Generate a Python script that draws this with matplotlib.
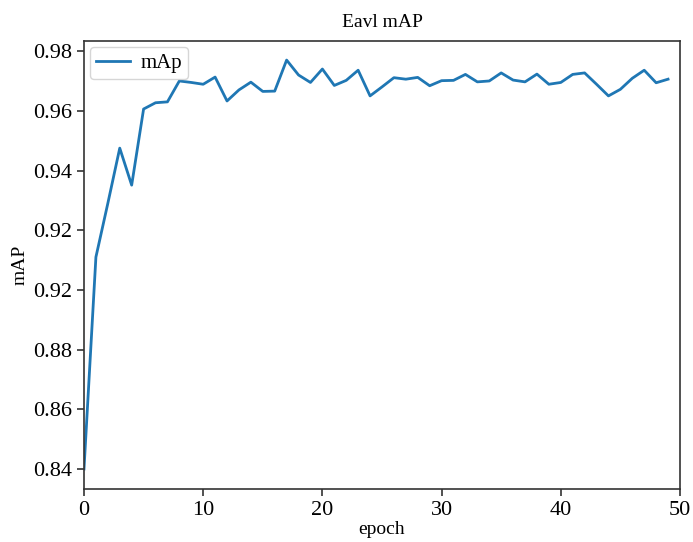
import numpy as np
import matplotlib
matplotlib.use("Agg")
import matplotlib.pyplot as plt

plt.rcParams['font.family'] = ['Liberation Serif', 'DejaVu Serif']

# mAP per epoch
epochs = np.arange(50)
map_values = [0.840, 0.911, 0.929, 0.9475, 0.9351, 0.9606, 0.9627, 0.9630, 0.9700, 0.9695,
              0.9689, 0.9713, 0.9633, 0.9670, 0.9696, 0.9665, 0.9666, 0.9770, 0.9720, 0.9695,
              0.9740, 0.9685, 0.9702, 0.9736, 0.9650, 0.9680, 0.9711, 0.9706, 0.9712, 0.9684,
              0.9701, 0.9702, 0.9722, 0.9697, 0.9700, 0.9727, 0.9703, 0.9697, 0.9723, 0.9689,
              0.9695, 0.9722, 0.9727, 0.9689, 0.9650, 0.9672, 0.9709, 0.9736, 0.9694, 0.9706]

ytick_pos = [0.84, 0.86, 0.88, 0.90, 0.92, 0.94, 0.96, 0.98]
ytick_labels = ["0.84", "0.86", "0.88", "0.92", "0.92", "0.94", "0.96", "0.98"]
xtick_pos = [0, 10, 20, 30, 40, 50]

fig = plt.figure(figsize=(6.93, 5.42), dpi=100)
ax = fig.add_axes([0.1212, 0.0978, 0.86, 0.8266])

ax.plot(epochs, map_values, color='#1f77b4', linewidth=2, label='mAp')
ax.set_xlim(0, 50)
ax.set_ylim(0.8333, 0.9834)
ax.set_xticks(xtick_pos)
ax.set_yticks(ytick_pos)
ax.set_yticklabels(ytick_labels)
ax.tick_params(labelsize=16, length=5, width=1.2, color='#333333')
for s in ax.spines.values():
    s.set_color('#333333')
    s.set_linewidth(1.2)

ax.set_title('Eavl mAP', fontsize=14, pad=10)
ax.set_xlabel('epoch', fontsize=14, labelpad=1)
ax.set_ylabel('mAP', fontsize=14, labelpad=3)
ax.legend(loc='upper left', fontsize=15, handlelength=1.6, borderpad=0.3,
          handletextpad=0.5, borderaxespad=0.3)

fig.savefig('out.png', dpi=100)
